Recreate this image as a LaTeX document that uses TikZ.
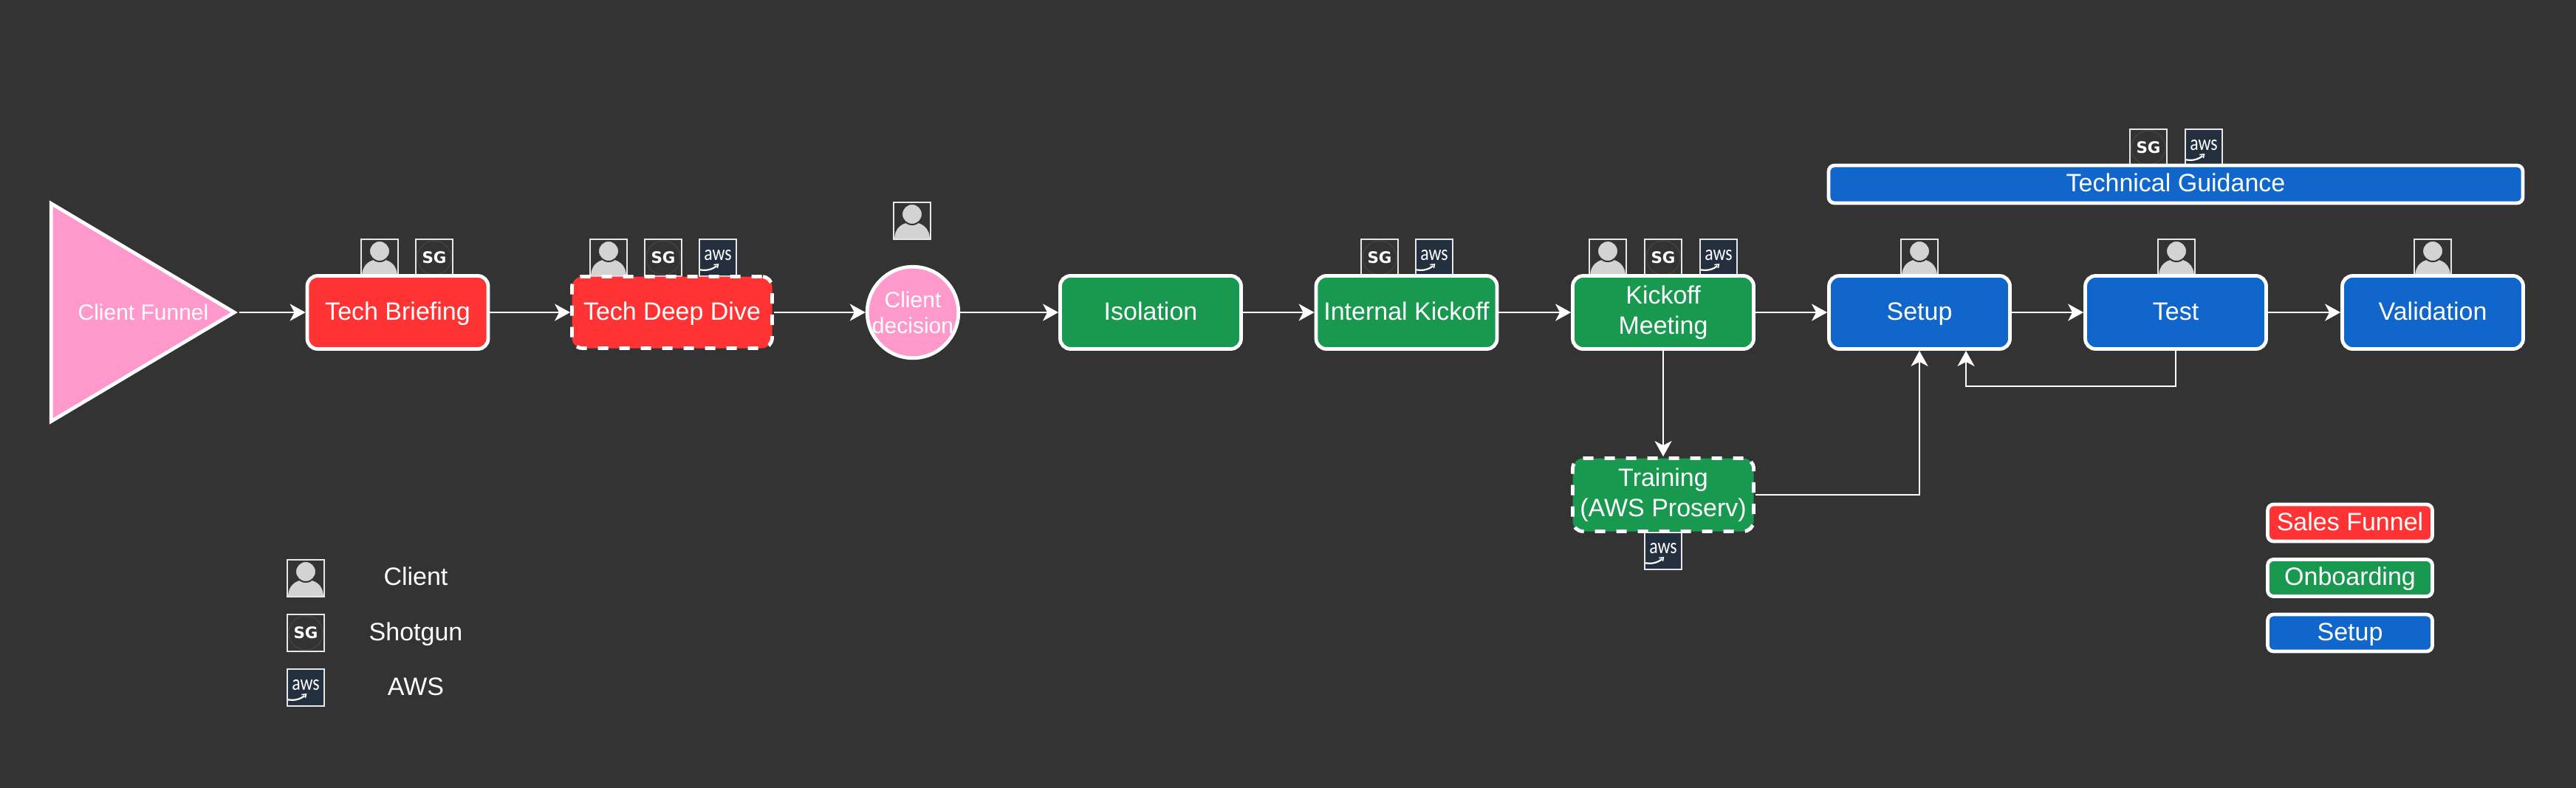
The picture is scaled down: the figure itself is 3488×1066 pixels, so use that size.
\documentclass[tikz,border=0pt]{standalone}
\usepackage{fontspec}
\setmainfont{Liberation Sans}
\newfontfamily\sgfont{DejaVu Sans}
\newfontfamily\awsfont[FakeStretch=0.82]{Carlito}
\usetikzlibrary{arrows.meta,shapes.geometric}
\definecolor{bgdark}{HTML}{333333}
\definecolor{salesred}{HTML}{FF3333}
\definecolor{onboardgreen}{HTML}{18994F}
\definecolor{setupblue}{HTML}{1166CC}
\definecolor{funnelpink}{HTML}{FF99CC}
\definecolor{awsnavy}{HTML}{232F3E}
\definecolor{personfill}{HTML}{D3D3D3}
\definecolor{iconline}{HTML}{E6E6E6}
\begin{document}
\begin{tikzpicture}[x=0.5pt,y=-0.5pt,
    boxtext/.style={text=white,font=\fontsize{17}{20.5}\selectfont,align=center,inner sep=0pt},
    smalltext/.style={boxtext,font=\fontsize{15}{17.5}\selectfont},
    oneline/.style={text height=12pt,text depth=2pt},
    stepbox/.style={boxtext,oneline,draw=white,line width=2.4pt,rounded corners=7pt,minimum width=122.5pt,minimum height=49.5pt},
    dashbox/.style={stepbox,dash pattern=on 7pt off 7.5pt},
    keybox/.style={boxtext,oneline,draw=white,line width=2.4pt,rounded corners=4pt,minimum width=111.5pt,minimum height=25pt},
    flow/.style={draw=white,line width=1.25pt,-{Stealth[length=10.5pt,width=11.5pt,inset=3pt]}},
    iconbox/.style={draw=iconline,line width=1pt,inner sep=0pt,minimum size=25pt},
    clienticon/.style={iconbox,path picture={
        \begin{scope}[shift={(path picture bounding box.center)}]
            \fill[personfill] (-24,26) .. controls (-24,8) and (-12,2) .. (0,2) .. controls (12,2) and (24,8) .. (24,26) -- cycle;
            \filldraw[fill=personfill,draw=bgdark,line width=1pt] (0,-9) circle[radius=14];
        \end{scope}}},
    sgicon/.style={iconbox,text=white,font=\fontsize{10.7}{12}\sgfont\bfseries,path picture={
        \draw[white!10!bgdark,line width=.5pt] (path picture bounding box.center) circle[radius=23];}},
    awsicon/.style={iconbox,fill=awsnavy,text=white,font=\fontsize{14.5}{16}\awsfont,text height=8pt,text depth=5pt,path picture={
        \begin{scope}[shift={(path picture bounding box.center)}]
            \draw[white,line width=1.1pt] (-19,7) .. controls (-8,16) and (8,16) .. (17,8);
            \draw[white,line width=.8pt] (13,6.5) -- (19,6) -- (18,11);
        \end{scope}}}]

    \useasboundingbox (0,0) rectangle (3488,1066);
    \fill[bgdark] (-10,-10) rectangle (3498,1076);

    \foreach \n/\x/\y in {brief/514/349,deep/824/349,decision/1235/299,kick/2177/349,setup/2599/349,test/2947/349,valid/3294/349,key/414/783}
        {\node[clienticon] (client\n) at (\x,\y) {};}
    \foreach \n/\x/\y in {brief/588/349,deep/898/349,internal/1868/349,kick/2252/349,guide/2909/200,key/414/857}
        {\node[sgicon] (sg\n) at (\x,\y) {SG};}
    \foreach \n/\x/\y in {deep/972/349,internal/1942/349,kick/2327/349,guide/2984/200,train/2252/746,key/414/931}
        {\node[awsicon] (aws\n) at (\x,\y) {aws};}

    \node[isosceles triangle,isosceles triangle stretches,shape border rotate=0,draw=white,line width=2.4pt,fill=funnelpink,
        minimum width=147.5pt,minimum height=124pt,inner sep=0pt,anchor=apex] (funnel) at (323.5,423) {};
    \node[smalltext] (funneltext) at (194,423) {Client Funnel};
    \node[stepbox,fill=salesred] (briefing) at (538.5,423) {Tech Briefing};
    \node[dashbox,fill=salesred,minimum width=135.5pt,minimum height=48.5pt] (deepdive) at (910,423) {Tech Deep Dive};
    \node[circle,draw=white,line width=2.4pt,fill=funnelpink,minimum size=61pt,smalltext] (decision) at (1236,423) {Client\\decision};
    \node[stepbox,fill=onboardgreen] (isolation) at (1558,423) {Isolation};
    \node[stepbox,fill=onboardgreen] (internal) at (1904.5,423) {Internal Kickoff};
    \node[stepbox,fill=onboardgreen,text height=,text depth=] (kickoff) at (2252,423) {Kickoff\\Meeting};
    \node[dashbox,fill=onboardgreen,text height=,text depth=] (training) at (2252,670) {Training\\(AWS Proserv)};
    \node[stepbox,fill=setupblue] (setup) at (2599,423) {Setup};
    \node[stepbox,fill=setupblue] (test) at (2946,423) {Test};
    \node[stepbox,fill=setupblue] (validation) at (3294,423) {Validation};
    \node[keybox,fill=setupblue,minimum width=470pt,minimum height=25.5pt] (guidance) at (2946,249.5) {Technical Guidance};

    \node[keybox,fill=salesred] (keysales) at (3182,708) {Sales Funnel};
    \node[keybox,fill=onboardgreen] (keyonboard) at (3182,782.5) {Onboarding};
    \node[keybox,fill=setupblue] (keysetup) at (3182,857) {Setup};

    \node[boxtext,oneline] (labelclient) at (563,782) {Client};
    \node[boxtext,oneline] (labelshotgun) at (563,857) {Shotgun};
    \node[boxtext,oneline] (labelaws) at (563,931) {AWS};

    \foreach \a/\b in {funnel.apex/briefing,briefing/deepdive,deepdive/decision,decision/isolation,isolation/internal,internal/kickoff,kickoff/setup,setup/test,test/validation}
        {\draw[flow] (\a) -- (\b);}
    \draw[flow] (kickoff) -- (training);
    \draw[flow] (training) -| (setup);
    \draw[flow] (test.south) -- ++(0,48) -| ([xshift=31.5pt]setup.south);
\end{tikzpicture}
\end{document}
